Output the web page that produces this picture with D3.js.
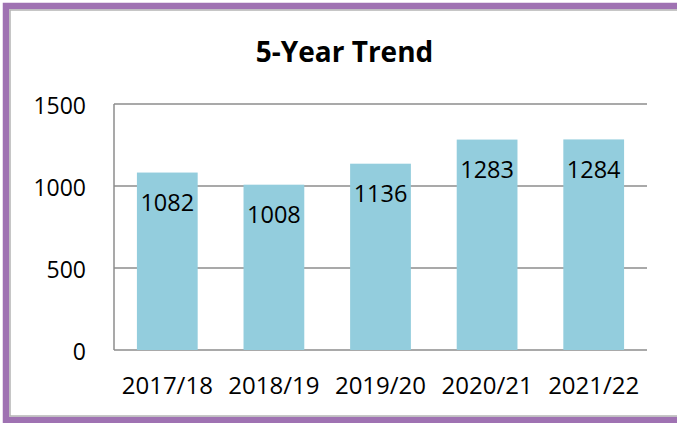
<!DOCTYPE html>
<html>
<head>
<meta charset="utf-8">
<script src="https://cdn.jsdelivr.net/npm/d3@7"></script>
<style>
  html, body { margin: 0; padding: 0; background: #fff; }
  text { font-family: "Open Sans", "Noto Sans", sans-serif; fill: #000; }
</style>
</head>
<body>
<div class="chart"></div>
<script>
var years = ["2017/18", "2018/19", "2019/20", "2020/21", "2021/22"];
var totals = [1082, 1008, 1136, 1283, 1284];
var yTicks = [0, 500, 1000, 1500];
var chartTitle = "5-Year Trend";

var width = 677, height = 423;
var plot = {left: 114, right: 647, top: 104, bottom: 350};

var svg = d3.select(".chart").append("svg")
    .attr("width", width)
    .attr("height", height);

// frame: purple border with a thin grey inner edge
svg.append("rect")
    .attr("x", 6).attr("y", 6)
    .attr("width", width + 20).attr("height", 414)
    .attr("fill", "none")
    .attr("stroke", "#9F72B2")
    .attr("stroke-width", 6.5);
svg.append("rect")
    .attr("x", 10).attr("y", 10)
    .attr("width", width + 20).attr("height", 406)
    .attr("fill", "none")
    .attr("stroke", "#b4b4b4")
    .attr("stroke-width", 1.5);

var x = d3.scaleBand()
    .domain(years)
    .range([plot.left, plot.right])
    .paddingInner(0.43)
    .paddingOuter(0.215);

var y = d3.scaleLinear()
    .domain([0, 1500])
    .range([plot.bottom, plot.top]);

// gridlines
svg.append("g")
    .selectAll("line")
    .data(yTicks)
    .enter().append("line")
    .attr("x1", plot.left)
    .attr("x2", plot.right)
    .attr("y1", function(d) { return y(d); })
    .attr("y2", function(d) { return y(d); })
    .attr("stroke", "#8c8c8c")
    .attr("stroke-width", 1.5);

// y axis line
svg.append("line")
    .attr("x1", plot.left).attr("x2", plot.left)
    .attr("y1", plot.top).attr("y2", plot.bottom)
    .attr("stroke", "#8c8c8c")
    .attr("stroke-width", 1.5);

// y tick labels
svg.append("g")
    .selectAll("text")
    .data(yTicks)
    .enter().append("text")
    .attr("x", 86)
    .attr("y", function(d) { return y(d) + 9.7; })
    .attr("text-anchor", "end")
    .style("font-size", "23px")
    .text(function(d) { return d; });

// bars
svg.append("g")
    .selectAll("rect")
    .data(totals)
    .enter().append("rect")
    .attr("x", function(d, i) { return x(years[i]); })
    .attr("y", function(d) { return y(d); })
    .attr("width", x.bandwidth())
    .attr("height", function(d) { return y(0) - y(d); })
    .attr("fill", "#93CDDD");

// value labels inside bar tops
svg.append("g")
    .selectAll("text")
    .data(totals)
    .enter().append("text")
    .attr("x", function(d, i) { return x(years[i]) + x.bandwidth() / 2; })
    .attr("y", function(d) { return y(d) + 38.5; })
    .attr("text-anchor", "middle")
    .style("font-size", "23.5px")
    .text(function(d) { return d; });

// category labels
svg.append("g")
    .selectAll("text")
    .data(years)
    .enter().append("text")
    .attr("x", function(d) { return x(d) + x.bandwidth() / 2; })
    .attr("y", 394)
    .attr("text-anchor", "middle")
    .style("font-size", "24px")
    .text(function(d) { return d; });

// title
svg.append("text")
    .attr("x", 344.5)
    .attr("y", 62)
    .attr("text-anchor", "middle")
    .style("font-size", "28px")
    .style("font-weight", "bold")
    .text(chartTitle);
</script>
</body>
</html>
